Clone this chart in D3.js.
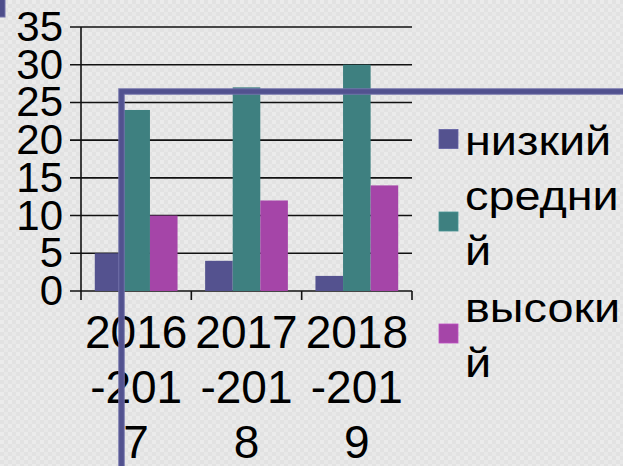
<!DOCTYPE html>
<html><head><meta charset="utf-8">
<script src="https://cdn.jsdelivr.net/npm/d3@7/dist/d3.min.js"></script>
<style>html,body{margin:0;padding:0;overflow:hidden}svg{display:block}</style>
</head><body>
<script>
const categories = ["2016-2017", "2017-2018", "2018-2019"];
const seriesNames = ["низкий", "средний", "высокий"];
const low = [5, 4, 2];
const mid = [24, 27, 30];
const high = [10, 12, 14];
const yTicks = [0, 5, 10, 15, 20, 25, 30, 35];
const colors = ["#54528f", "#3e8080", "#a545a8"];

const W = 623, H = 466;
const values = [low, mid, high];
const FONT = "'Liberation Sans', Arial, sans-serif";

const svg = d3.select("body").append("svg").attr("width", W).attr("height", H);
const defs = svg.append("defs");
const pat = defs.append("pattern").attr("id", "bg").attr("width", 8).attr("height", 8).attr("patternUnits", "userSpaceOnUse");
pat.append("rect").attr("width", 8).attr("height", 8).attr("fill", "#e2e2e2");
pat.append("rect").attr("x", 0).attr("y", 0).attr("width", 4).attr("height", 4).attr("fill", "#ebebeb");
pat.append("rect").attr("x", 4).attr("y", 4).attr("width", 4).attr("height", 4).attr("fill", "#e8e8e8");
svg.append("rect").attr("width", W).attr("height", H).attr("fill", "url(#bg)");

const x0 = d3.scaleBand().domain(categories).range([81, 412]).paddingInner(0).paddingOuter(0);
const x1 = d3.scaleBand().domain(seriesNames).range([0, x0.bandwidth()]).paddingInner(0).paddingOuter(0.5);
const y = d3.scaleLinear().domain([0, 35]).range([291, 27]);

// gridlines
svg.append("g").selectAll("line").data(yTicks).join("line")
  .attr("x1", 70).attr("x2", 412)
  .attr("y1", d => y(d)).attr("y2", d => y(d))
  .attr("stroke", "#111").attr("stroke-width", 1.6);

// y axis line
svg.append("line").attr("x1", 81).attr("x2", 81).attr("y1", y(35)).attr("y2", y(0) + 9)
  .attr("stroke", "#111").attr("stroke-width", 1.6);
// category ticks
const bounds = categories.map(c => x0(c) + x0.bandwidth());
svg.append("g").selectAll("line").data(bounds).join("line")
  .attr("x1", d => d).attr("x2", d => d).attr("y1", y(0)).attr("y2", y(0) + 9)
  .attr("stroke", "#111").attr("stroke-width", 1.6);

// bars
seriesNames.forEach((s, si) => {
  svg.append("g").selectAll("rect").data(values[si]).join("rect")
    .attr("x", (d, i) => x0(categories[i]) + x1(s))
    .attr("width", x1.bandwidth())
    .attr("y", d => y(d))
    .attr("height", d => y(0) - y(d))
    .attr("fill", colors[si]);
});

// y labels
svg.append("g").selectAll("text").data(yTicks).join("text")
  .attr("x", 63).attr("y", d => y(d) + 14)
  .attr("text-anchor", "end")
  .attr("font-family", FONT).attr("font-size", 42).attr("fill", "#000")
  .text(d => d);

// x labels (wrapped)
function chunks(str, n) { const out = []; for (let i = 0; i < str.length; i += n) out.push(str.slice(i, i + n)); return out; }
categories.forEach(c => {
  const t = svg.append("text").attr("text-anchor", "middle")
    .attr("font-family", FONT).attr("font-size", 46).attr("fill", "#000");
  chunks(c, 4).forEach((line, li) => {
    t.append("tspan").attr("x", x0(c) + x0.bandwidth() / 2).attr("y", 348 + li * 55).text(line);
  });
});

// legend
const legTop = [155, 210, 322];
seriesNames.forEach((s, si) => {
  const lines = chunks(s, 6);
  const b0 = legTop[si];
  const mid = (b0 + b0 + (lines.length - 1) * 55) / 2 - 16;
  svg.append("rect").attr("x", 439).attr("y", mid - 9.5).attr("width", 19).attr("height", 19)
    .attr("fill", colors[si]).attr("stroke", d3.color(colors[si]).brighter(0.4)).attr("stroke-width", 0.8);
  const g = svg.append("g").attr("transform", `translate(465,0) scale(1.17,1)`);
  const t = g.append("text").attr("font-family", FONT).attr("font-size", 40).attr("fill", "#000");
  lines.forEach((line, li) => t.append("tspan").attr("x", 0).attr("y", b0 + li * 55).text(line));
});

// decorative frame line overlay
svg.append("path").attr("d", `M121.5,466 V91.5 H623`).attr("fill", "none")
  .attr("stroke", "#7272aa").attr("stroke-width", 6.5);
svg.append("path").attr("d", `M121.5,466 V91.5 H623`).attr("fill", "none")
  .attr("stroke", "#52528f").attr("stroke-width", 4.5);
svg.append("rect").attr("x", -1).attr("y", -1).attr("width", 6).attr("height", 18)
  .attr("fill", "#4d4d8a").attr("stroke", "#7272aa").attr("stroke-width", 1);
</script>
</body></html>
